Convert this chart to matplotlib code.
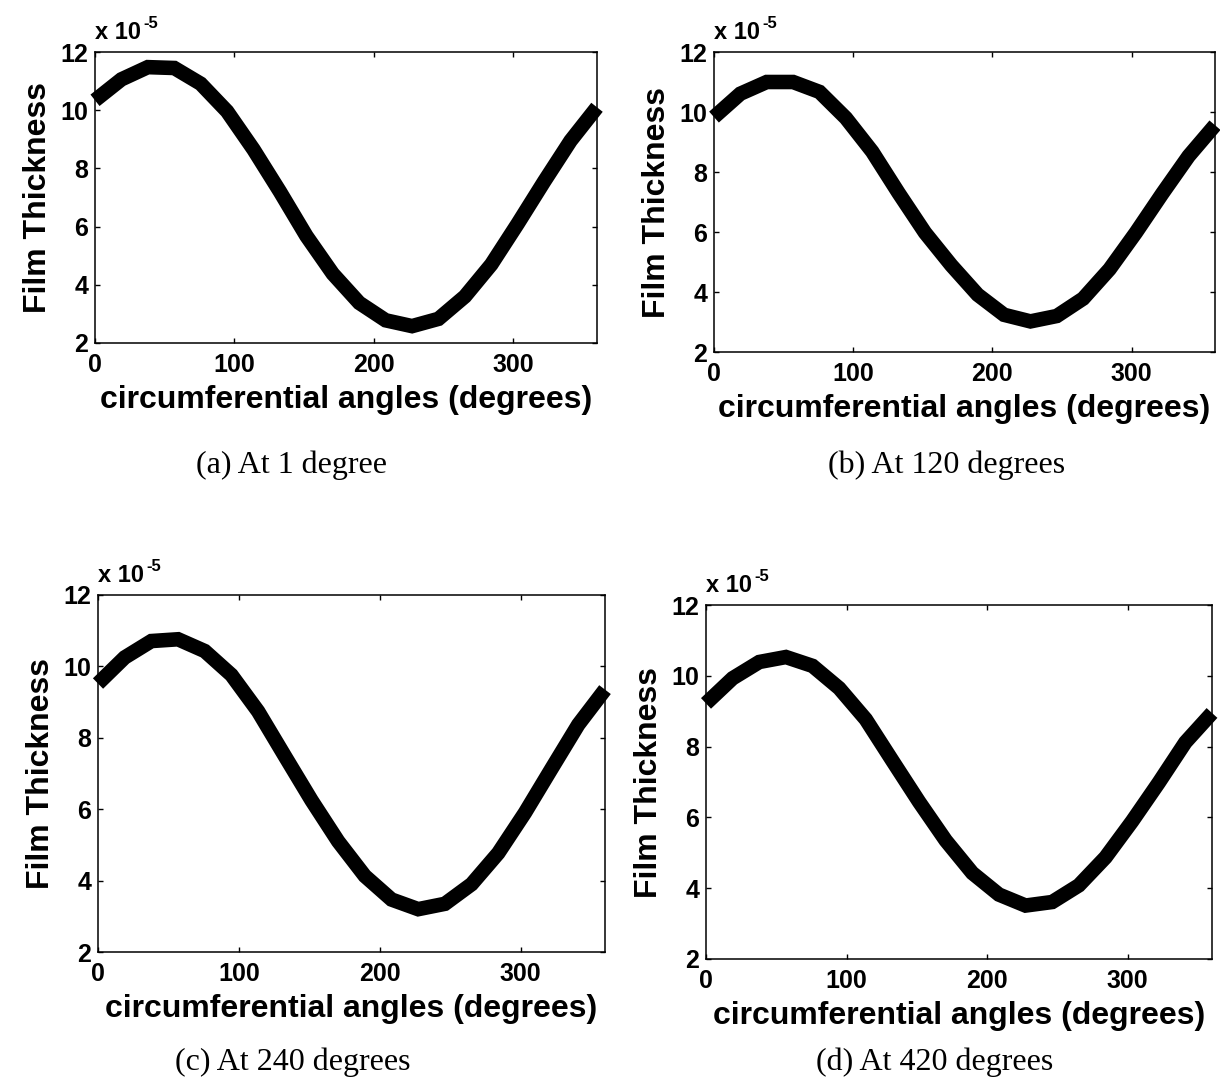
import numpy as np
import matplotlib
matplotlib.use("Agg")
import matplotlib.pyplot as plt

# Circumferential positions (degrees) at which film thickness was evaluated
angles = np.linspace(0, 360, 20)

# Film thickness (x 1e-5) at each position, for four crank positions
film_a = [10.34, 11.06, 11.48, 11.45, 10.91, 9.96, 8.65, 7.20, 5.68, 4.38,
          3.38, 2.78, 2.58, 2.83, 3.60, 4.70, 6.10, 7.55, 8.95, 10.10]
film_b = [9.83, 10.61, 11.00, 11.00, 10.67, 9.80, 8.68, 7.30, 5.98, 4.89,
          3.91, 3.24, 3.02, 3.20, 3.78, 4.76, 5.98, 7.28, 8.53, 9.56]
film_c = [9.52, 10.25, 10.71, 10.76, 10.43, 9.76, 8.74, 7.49, 6.25, 5.10,
          4.13, 3.47, 3.20, 3.35, 3.90, 4.77, 5.90, 7.14, 8.37, 9.35]
film_d = [9.22, 9.93, 10.39, 10.53, 10.28, 9.65, 8.77, 7.60, 6.44, 5.35,
          4.43, 3.82, 3.51, 3.61, 4.08, 4.87, 5.89, 6.98, 8.12, 8.95]

captions = ["(a) At 1 degree", "(b) At 120 degrees",
            "(c) At 240 degrees", "(d) At 420 degrees"]
xticks = [0, 100, 200, 300]
yticks = [2, 4, 6, 8, 10, 12]

W, H = 1220, 1085
fig = plt.figure(figsize=(W / 100, H / 100), dpi=100)

SANS = "Liberation Sans"
SERIF = "Liberation Serif"


def px_box(x0, y0, x1, y1):
    return [x0 / W, 1 - y1 / H, (x1 - x0) / W, (y1 - y0) / H]


# axes frames in pixel coordinates (left, top, right, bottom)
frames = [(95, 52, 597, 343), (714, 52, 1215, 352),
          (98, 595, 605, 952), (706, 605, 1212, 959)]
caption_pos = [(291, 465), (947, 465), (293, 1062), (935, 1062)]
series = [film_a, film_b, film_c, film_d]

for frame, vals, cap, cpos in zip(frames, series, captions, caption_pos):
    x0, y0, x1, y1 = frame
    ax = fig.add_axes(px_box(x0, y0, x1, y1))
    ax.plot(angles, vals, color="black", lw=10.5, solid_joinstyle="miter",
            solid_capstyle="butt", clip_on=False)
    ax.set_xlim(0, 360)
    ax.set_ylim(2, 12)
    ax.set_xticks(xticks)
    ax.set_yticks(yticks)
    ax.tick_params(direction="in", length=3.5, width=1.0, top=True, right=True,
                   labelsize=18)
    ax.tick_params(axis="x", pad=7)
    ax.tick_params(axis="y", pad=5)
    for lab in ax.get_xticklabels() + ax.get_yticklabels():
        lab.set_fontfamily(SANS)
        lab.set_fontweight("bold")
    for sp in ax.spines.values():
        sp.set_linewidth(1.1)
    ax.set_xlabel("circumferential angles (degrees)", fontsize=23,
                  fontweight="bold", family=SANS, labelpad=6)
    ax.set_ylabel("Film Thickness", fontsize=23, fontweight="bold",
                  family=SANS, labelpad=5)
    # scale factor shown above the y axis
    fig.text(x0 / W, 1 - (y0 - 13) / H, "x 10", fontsize=17,
             fontweight="bold", family=SANS, ha="left", va="baseline")
    fig.text((x0 + 48) / W, 1 - (y0 - 24) / H, "-5", fontsize=12,
             fontweight="bold", family=SANS, ha="left", va="baseline")
    fig.text(cpos[0] / W, 1 - cpos[1] / H, cap, fontsize=23, family=SERIF,
             ha="center", va="center")

fig.savefig("out.png", dpi=100, facecolor="white")
